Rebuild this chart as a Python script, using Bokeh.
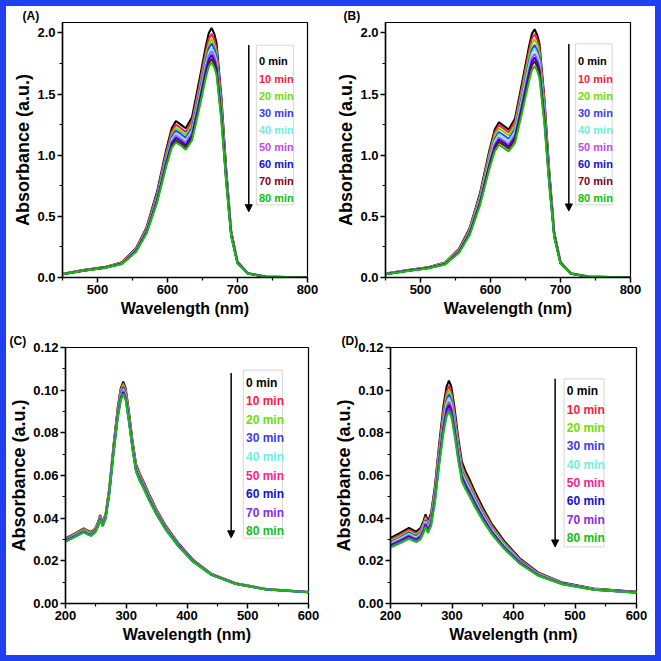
from bokeh.plotting import figure
from bokeh.layouts import column, row
from bokeh.models import (Range1d, Label, BoxAnnotation, Arrow, NormalHead,
                          FixedTicker, NumeralTickFormatter)
from bokeh.embed import file_html
from bokeh.resources import INLINE

FONT = "Liberation Sans"

times = ["0 min", "10 min", "20 min", "30 min", "40 min",
         "50 min", "60 min", "70 min", "80 min"]

colors_AB = ["#000000", "#ff1a40", "#6ee000", "#3a3af5", "#70f0dc",
             "#c447f0", "#1010d8", "#800020", "#10c010"]
colors_CD = ["#000000", "#ff1a40", "#6ee000", "#3a3af5", "#70f0dc",
             "#ff2090", "#1010d8", "#8a2be2", "#10c010"]

# ---------------- Panel A ----------------
wl_A = [450, 480, 510, 535, 555, 570, 585, 598, 606, 612, 619, 626, 635,
        645, 655, 659, 663, 667, 670, 677, 684, 691, 700, 715, 740, 800]
A_0 = [.030, .062, .085, .125, .240, .410, .700, 1.040, 1.220, 1.280, 1.250, 1.220, 1.310,
       1.600, 1.900, 2.000, 2.040, 1.990, 1.920, 1.480, .880, .380, .130, .035, .008, 0]
A_10 = [.029, .061, .084, .122, .235, .402, .685, 1.017, 1.193, 1.250, 1.221, 1.190, 1.278,
        1.561, 1.856, 1.953, 1.992, 1.943, 1.876, 1.446, .860, .372, .127, .034, .008, 0]
A_20 = [.029, .060, .082, .120, .230, .394, .671, .997, 1.169, 1.224, 1.196, 1.164, 1.249,
        1.526, 1.817, 1.912, 1.950, 1.902, 1.837, 1.416, .843, .366, .125, .034, .008, 0]
A_30 = [.028, .059, .081, .118, .226, .388, .660, .979, 1.148, 1.201, 1.174, 1.141, 1.225,
        1.497, 1.783, 1.876, 1.914, 1.866, 1.803, 1.390, .828, .360, .123, .033, .008, 0]
A_40 = [.028, .058, .080, .116, .223, .382, .649, .963, 1.129, 1.180, 1.153, 1.120, 1.202,
        1.469, 1.752, 1.843, 1.880, 1.833, 1.772, 1.366, .814, .354, .121, .033, .008, 0]
A_50 = [.027, .057, .080, .115, .220, .376, .639, .948, 1.111, 1.161, 1.134, 1.101, 1.181,
        1.444, 1.723, 1.813, 1.850, 1.803, 1.743, 1.344, .802, .349, .120, .032, .007, 0]
A_60 = [.027, .056, .079, .113, .216, .370, .629, .933, 1.094, 1.142, 1.116, 1.082, 1.160,
        1.418, 1.695, 1.783, 1.819, 1.773, 1.715, 1.322, .789, .344, .118, .032, .007, 0]
A_70 = [.026, .056, .078, .112, .213, .365, .619, .918, 1.076, 1.122, 1.097, 1.062, 1.139,
        1.393, 1.666, 1.752, 1.788, 1.742, 1.686, 1.300, .777, .340, .117, .031, .007, 0]
A_80 = [.026, .055, .077, .110, .210, .360, .610, .905, 1.060, 1.105, 1.080, 1.045, 1.120,
        1.370, 1.640, 1.725, 1.760, 1.715, 1.660, 1.280, .765, .335, .115, .031, .007, 0]

# ---------------- Panel B ----------------
wl_B = [450, 480, 510, 535, 555, 570, 585, 598, 606, 612, 619, 626, 635,
        645, 655, 659, 663, 667, 670, 677, 684, 691, 700, 715, 740, 800]
B_0 = [.032, .060, .083, .122, .235, .400, .690, 1.030, 1.210, 1.270, 1.240, 1.210, 1.300,
       1.590, 1.890, 1.990, 2.030, 1.980, 1.910, 1.470, .870, .375, .128, .034, .008, 0]
B_10 = [.031, .059, .082, .120, .231, .393, .677, 1.010, 1.187, 1.246, 1.217, 1.187, 1.274,
        1.558, 1.853, 1.952, 1.991, 1.942, 1.874, 1.442, .854, .369, .126, .033, .008, 0]
B_20 = [.030, .058, .081, .118, .226, .385, .663, .989, 1.161, 1.220, 1.191, 1.161, 1.246,
        1.524, 1.813, 1.910, 1.949, 1.900, 1.834, 1.412, .838, .363, .124, .033, .008, 0]
B_30 = [.029, .057, .079, .115, .221, .376, .647, .965, 1.133, 1.190, 1.163, 1.133, 1.214,
        1.485, 1.767, 1.863, 1.901, 1.853, 1.790, 1.378, .818, .356, .122, .032, .008, 0]
B_40 = [.029, .056, .078, .114, .218, .371, .637, .950, 1.115, 1.172, 1.145, 1.115, 1.194,
        1.460, 1.739, 1.834, 1.871, 1.824, 1.762, 1.356, .806, .351, .120, .032, .008, 0]
B_50 = [.028, .055, .077, .111, .213, .363, .623, .929, 1.089, 1.146, 1.119, 1.089, 1.166,
        1.426, 1.699, 1.792, 1.829, 1.782, 1.722, 1.326, .790, .345, .118, .031, .007, 0]
B_60 = [.027, .054, .076, .110, .210, .358, .613, .914, 1.071, 1.128, 1.101, 1.071, 1.146,
        1.401, 1.671, 1.763, 1.799, 1.753, 1.694, 1.304, .778, .340, .116, .031, .007, 0]
B_70 = [.027, .053, .075, .108, .206, .352, .603, .899, 1.053, 1.109, 1.083, 1.053, 1.126,
        1.377, 1.642, 1.733, 1.769, 1.723, 1.666, 1.283, .766, .336, .115, .031, .007, 0]
B_80 = [.026, .052, .074, .106, .202, .345, .590, .880, 1.030, 1.085, 1.060, 1.030, 1.100,
        1.345, 1.605, 1.695, 1.730, 1.685, 1.630, 1.255, .750, .330, .113, .030, .007, 0]

# ---------------- Panel C ----------------
wl_C = [200, 215, 230, 236, 242, 249, 254, 257, 261, 266, 272, 279, 286, 291, 295,
        299, 304, 310, 316, 322, 328, 338, 350, 365, 385, 410, 440, 480, 530, 600]
C_0 = [.0305, .0328, .0352, .0342, .0335, .0352, .0385, .0415, .0382, .0420, .0540, .0740, .0920, .1010, .1040,
       .1010, .0910, .0770, .0655, .0610, .0575, .0510, .0440, .0365, .0285, .0205, .0140, .0095, .0068, .0054]
C_10 = [.0303, .0326, .0350, .0340, .0333, .0350, .0382, .0412, .0379, .0417, .0536, .0735, .0914, .1003, .1033,
        .1003, .0904, .0765, .0651, .0606, .0571, .0507, .0437, .0363, .0283, .0204, .0139, .0095, .0068, .0054]
C_20 = [.0301, .0324, .0348, .0338, .0331, .0347, .0380, .0409, .0377, .0414, .0532, .0730, .0907, .0996, .1025,
        .0996, .0897, .0759, .0646, .0601, .0567, .0503, .0434, .0360, .0281, .0203, .0139, .0094, .0068, .0054]
C_30 = [.0299, .0321, .0344, .0334, .0327, .0344, .0376, .0405, .0373, .0410, .0527, .0723, .0898, .0986, .1015,
        .0986, .0888, .0752, .0639, .0595, .0561, .0498, .0430, .0357, .0279, .0201, .0137, .0093, .0067, .0054]
C_40 = [.0296, .0318, .0342, .0332, .0325, .0341, .0373, .0402, .0370, .0407, .0523, .0717, .0890, .0976, .1005,
        .0977, .0880, .0745, .0634, .0590, .0556, .0493, .0426, .0353, .0276, .0199, .0137, .0093, .0067, .0053]
C_50 = [.0295, .0316, .0339, .0329, .0322, .0339, .0370, .0399, .0367, .0404, .0519, .0712, .0884, .0969, .0998,
        .0970, .0874, .0740, .0629, .0586, .0552, .0490, .0423, .0351, .0275, .0198, .0136, .0092, .0067, .0053]
C_60 = [.0293, .0314, .0337, .0327, .0320, .0336, .0368, .0396, .0365, .0401, .0515, .0707, .0877, .0962, .0990,
        .0963, .0867, .0734, .0624, .0581, .0548, .0486, .0419, .0348, .0273, .0197, .0135, .0092, .0066, .0053]
C_70 = [.0291, .0312, .0335, .0325, .0318, .0335, .0366, .0394, .0363, .0399, .0512, .0703, .0872, .0957, .0985,
        .0958, .0862, .0730, .0621, .0578, .0545, .0483, .0417, .0347, .0271, .0196, .0135, .0091, .0066, .0053]
C_80 = [.0290, .0311, .0334, .0324, .0317, .0333, .0364, .0392, .0361, .0397, .0510, .0700, .0868, .0952, .0980,
        .0953, .0858, .0727, .0618, .0575, .0542, .0481, .0415, .0345, .0270, .0195, .0134, .0091, .0066, .0053]

# ---------------- Panel D ----------------
wl_D = [200, 215, 230, 236, 242, 249, 254, 257, 261, 266, 272, 279, 286, 291, 295,
        299, 304, 310, 316, 322, 328, 338, 350, 365, 385, 410, 440, 480, 530, 600]
D_0 = [.0308, .0330, .0355, .0345, .0337, .0355, .0390, .0418, .0385, .0425, .0545, .0745, .0925, .1015, .1045,
       .1015, .0920, .0780, .0665, .0620, .0585, .0520, .0450, .0372, .0292, .0212, .0146, .0098, .0070, .0055]
D_10 = [.0300, .0322, .0346, .0336, .0329, .0346, .0380, .0408, .0376, .0415, .0532, .0728, .0903, .0991, .1020,
        .0991, .0898, .0762, .0649, .0606, .0571, .0508, .0440, .0364, .0286, .0208, .0143, .0096, .0069, .0054]
D_20 = [.0294, .0315, .0339, .0329, .0322, .0339, .0372, .0399, .0368, .0406, .0521, .0713, .0885, .0971, .1000,
        .0971, .0880, .0747, .0636, .0594, .0560, .0498, .0431, .0357, .0281, .0204, .0141, .0095, .0068, .0053]
D_30 = [.0287, .0308, .0332, .0322, .0315, .0331, .0364, .0391, .0360, .0398, .0510, .0699, .0867, .0952, .0980,
        .0952, .0862, .0731, .0624, .0582, .0549, .0488, .0423, .0350, .0275, .0201, .0139, .0094, .0067, .0053]
D_40 = [.0283, .0304, .0326, .0317, .0310, .0326, .0359, .0384, .0355, .0391, .0503, .0689, .0854, .0937, .0965,
        .0937, .0850, .0721, .0614, .0573, .0541, .0481, .0416, .0345, .0272, .0198, .0137, .0093, .0067, .0052]
D_50 = [.0276, .0297, .0319, .0310, .0303, .0318, .0351, .0376, .0347, .0383, .0492, .0675, .0836, .0918, .0945,
        .0918, .0832, .0705, .0602, .0561, .0530, .0471, .0408, .0338, .0266, .0195, .0135, .0092, .0066, .0052]
D_60 = [.0272, .0292, .0314, .0305, .0298, .0313, .0345, .0370, .0342, .0377, .0484, .0664, .0823, .0904, .0930,
        .0904, .0819, .0695, .0592, .0553, .0522, .0464, .0402, .0333, .0263, .0192, .0133, .0091, .0065, .0051]
D_70 = [.0267, .0287, .0308, .0300, .0293, .0307, .0339, .0363, .0335, .0370, .0476, .0653, .0809, .0888, .0915,
        .0888, .0805, .0683, .0582, .0543, .0513, .0456, .0395, .0328, .0259, .0189, .0132, .0090, .0065, .0050]
D_80 = [.0262, .0282, .0303, .0295, .0288, .0302, .0333, .0357, .0330, .0364, .0468, .0643, .0796, .0874, .0900,
        .0874, .0792, .0672, .0573, .0535, .0505, .0449, .0389, .0323, .0255, .0187, .0130, .0089, .0064, .0050]

series_A = [A_0, A_10, A_20, A_30, A_40, A_50, A_60, A_70, A_80]
series_B = [B_0, B_10, B_20, B_30, B_40, B_50, B_60, B_70, B_80]
series_C = [C_0, C_10, C_20, C_30, C_40, C_50, C_60, C_70, C_80]
series_D = [D_0, D_10, D_20, D_30, D_40, D_50, D_60, D_70, D_80]

# axis ticks
ticks_vis = [500, 600, 700, 800]
minor_vis = [450, 550, 650, 750]
ticks_uv = [200, 300, 400, 500, 600]
minor_uv = [250, 350, 450, 550]
ticks_absAB = [0.0, 0.5, 1.0, 1.5, 2.0]
minor_absAB = [0.25, 0.75, 1.25, 1.75]
ticks_absCD = [0.0, 0.02, 0.04, 0.06, 0.08, 0.10, 0.12]
minor_absCD = [0.01, 0.03, 0.05, 0.07, 0.09, 0.11]


def make_panel(tag, wl, series, colors, xr, yr, xt, xm, yt, ym, yfmt,
               geom, tag_offset, leg, leg_font):
    W, H, bl, br, bt, bb = geom
    p = figure(width=W, height=H, min_border_left=bl, min_border_right=br,
               min_border_top=bt, min_border_bottom=bb,
               x_range=Range1d(*xr), y_range=Range1d(*yr), title=tag,
               output_backend="svg", toolbar_location=None, tools="")
    p.background_fill_color = "white"
    p.border_fill_color = "white"
    p.outline_line_color = "black"
    p.outline_line_width = 1.2
    p.grid.visible = False

    # panel tag as a left-aligned title shifted into the left margin
    p.title.align = "left"
    p.title.offset = tag_offset
    p.title.standoff = 0
    p.title.text_font = FONT
    p.title.text_font_style = "bold"
    p.title.text_font_size = "12px"
    p.title.text_color = "black"

    for s, c in zip(series, colors):
        p.line(wl, s, line_color=c, line_width=2)

    p.xaxis.ticker = FixedTicker(ticks=xt, minor_ticks=xm)
    p.yaxis.ticker = FixedTicker(ticks=yt, minor_ticks=ym)
    p.yaxis.formatter = NumeralTickFormatter(format=yfmt)
    for ax in (p.xaxis[0], p.yaxis[0]):
        ax.major_tick_out = 5
        ax.major_tick_in = 0
        ax.minor_tick_out = 3
        ax.minor_tick_in = 0
        ax.axis_line_width = 1.5
        ax.major_tick_line_width = 1.5
        ax.minor_tick_line_width = 1.2
        ax.major_label_text_font = FONT
        ax.major_label_text_font_style = "bold"
        ax.major_label_text_font_size = "13px"
        ax.major_label_text_color = "black"
        ax.major_label_standoff = 2
        ax.axis_label_text_font = FONT
        ax.axis_label_text_font_style = "bold"
        ax.axis_label_text_color = "black"
    p.xaxis.axis_label = "Wavelength (nm)"
    p.xaxis.axis_label_text_font_size = "16px"
    p.xaxis.axis_label_standoff = 3
    p.yaxis.axis_label = "Absorbance (a.u.)"
    p.yaxis.axis_label_text_font_size = "18px"
    p.yaxis.axis_label_standoff = 1

    # legend box, arrow and coloured entries
    bx0, bx1, by0, by1, tx, ty0, tdy, ax_, ay0, ay1 = leg
    p.add_layout(BoxAnnotation(left=bx0, right=bx1, bottom=by0, top=by1,
                               fill_color="white", fill_alpha=1,
                               line_color="#8a8a8a", line_width=1.2))
    p.add_layout(Arrow(end=NormalHead(size=7, fill_color="black", line_color="black"),
                       x_start=ax_, y_start=ay0, x_end=ax_, y_end=ay1,
                       line_color="black", line_width=1.5))
    for k, (t, c) in enumerate(zip(times, colors)):
        p.add_layout(Label(x=tx, y=ty0 - k * tdy, text=t, text_color=c,
                           text_font=FONT, text_font_style="bold",
                           text_font_size=leg_font, text_baseline="middle",
                           text_align="left"))
    return p


pA = make_panel("(A)", wl_A, series_A, colors_AB, (450, 800), (0, 2.085),
                ticks_vis, minor_vis, ticks_absAB, minor_absAB, "0.0",
                (325, 325, 56, 24, 11, 54), -40,
                (727.1, 780.0, 0.593, 1.899, 730.7, 1.767, 0.14, 716.1, 1.902, 0.538),
                "11px")
pB = make_panel("(B)", wl_B, series_B, colors_AB, (450, 800), (0, 2.085),
                ticks_vis, minor_vis, ticks_absAB, minor_absAB, "0.0",
                (324, 325, 54, 25, 11, 54), -42,
                (721.4, 773.9, 0.593, 1.910, 725.0, 1.767, 0.14, 711.9, 1.910, 0.544),
                "11px")
pC = make_panel("(C)", wl_C, series_C, colors_CD, (200, 600), (0, 0.12),
                ticks_uv, minor_uv, ticks_absCD, minor_absCD, "0.00",
                (325, 324, 57, 23, 14, 52), -56,
                (492.7, 557.1, 0.0306, 0.1094, 497.1, 0.1034, 0.00868, 472.7, 0.108, 0.0308),
                "12px")
pD = make_panel("(D)", wl_D, series_D, colors_CD, (200, 600), (0, 0.12),
                ticks_uv, minor_uv, ticks_absCD, minor_absCD, "0.00",
                (324, 324, 58, 19, 14, 52), -49,
                (482.3, 547.0, 0.0265, 0.1053, 486.6, 0.0995, 0.0086, 467.7, 0.1053, 0.0265),
                "12px")

root = column(row(pA, pB), row(pC, pD),
              styles={"border": "6px solid #1f3ff0", "background-color": "white"})

open("out.html", "w").write(file_html(root, INLINE))
